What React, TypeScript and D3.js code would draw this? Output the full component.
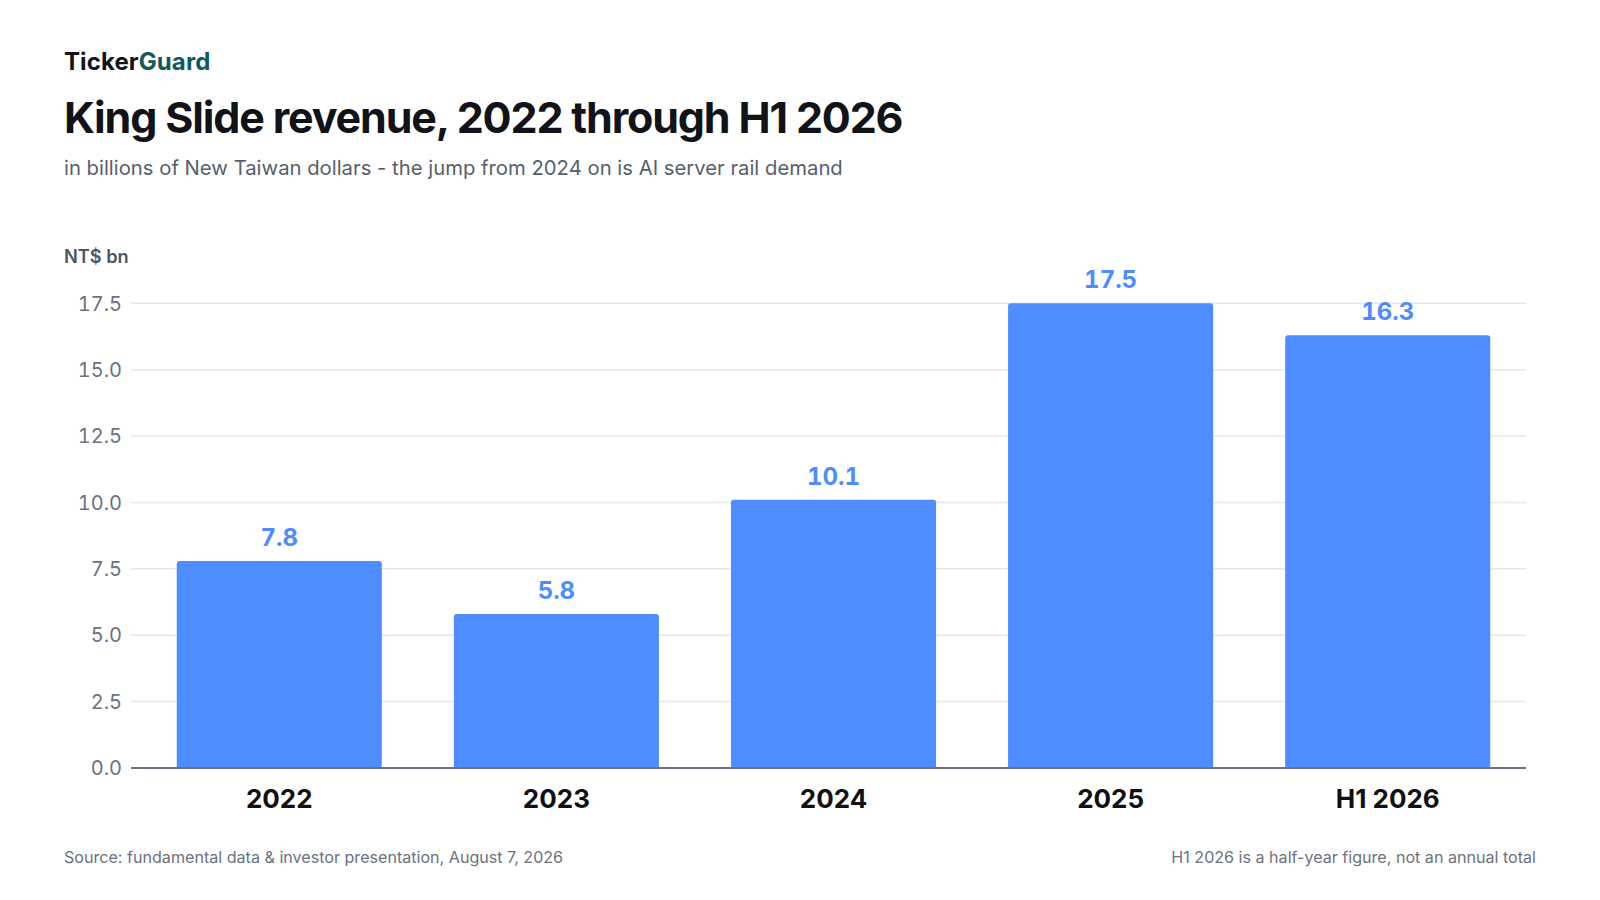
import React from "react";
import * as d3 from "d3";

const categories = ["2022", "2023", "2024", "2025", "H1 2026"];
const revenue = [7.8, 5.8, 10.1, 17.5, 16.3];
const yTicks = [0, 2.5, 5, 7.5, 10, 12.5, 15, 17.5];

const W = 1600;
const H = 900;
const FONT = "Inter, 'Noto Sans', sans-serif";
const GRID_X0 = 131;
const GRID_X1 = 1526;

const x = d3
  .scaleBand<string>()
  .domain(categories)
  .range([136, 1531])
  .paddingInner(0.26)
  .paddingOuter(0.147);

const y = d3.scaleLinear().domain([0, 17.5]).range([768, 303.3]);
const fmt = d3.format(".1f");
const tnum: React.CSSProperties = { fontVariantNumeric: "tabular-nums", fontFeatureSettings: "'tnum'" };

function topRoundedRect(x0: number, y0: number, w: number, h: number, r: number) {
  const p = d3.path();
  p.moveTo(x0, y0 + h);
  p.lineTo(x0, y0 + r);
  p.arcTo(x0, y0, x0 + r, y0, r);
  p.lineTo(x0 + w - r, y0);
  p.arcTo(x0 + w, y0, x0 + w, y0 + r, r);
  p.lineTo(x0 + w, y0 + h);
  p.closePath();
  return p.toString();
}

export default function App() {
  return (
    <svg
      width={W}
      height={H}
      viewBox={`0 0 ${W} ${H}`}
      style={{ position: "absolute", left: 0, top: 0, background: "#fff" }}
      fontFamily={FONT}
    >
      <rect width={W} height={H} fill="#fff" />
      <text x={64} y={70} fontSize={24} fontWeight={700} fill="#111318" letterSpacing={0.1}>
        Ticker<tspan fill="#0f5a5a">Guard</tspan>
      </text>
      <text x={64} y={133} fontSize={43} fontWeight={700} fill="#111318" letterSpacing={-1.15}>
        King Slide revenue, 2022 through H1 2026
      </text>
      <text x={64} y={175} fontSize={20.3} fill="#56606d">
        in billions of New Taiwan dollars - the jump from 2024 on is AI server rail demand
      </text>
      <text x={64} y={263} fontSize={18.2} fontWeight={600} fill="#4b5563">
        NT$ bn
      </text>

      {yTicks.map((t) => (
        <g key={t}>
          {t !== 0 && (
            <line x1={GRID_X0} x2={GRID_X1} y1={y(t)} y2={y(t)} stroke="#e5e7eb" strokeWidth={1.5} />
          )}
          <text
            x={122}
            y={y(t)}
            dy="0.36em"
            textAnchor="end"
            fontSize={20}
            fill="#6b7280"
            style={tnum}
          >
            {fmt(t)}
          </text>
        </g>
      ))}

      {categories.map((c, i) => {
        const bx = x(c) as number;
        const bw = x.bandwidth();
        const top = y(revenue[i]);
        return (
          <g key={c}>
            <path d={topRoundedRect(bx, top, bw, y(0) - top, 3)} fill="#4d8dff" />
            <text
              x={bx + bw / 2}
              y={top - 15}
              textAnchor="middle"
              fontSize={24}
              fontWeight={700}
              fill="#4d8dff"
              style={tnum}
            >
              {fmt(revenue[i])}
            </text>
            <text
              x={bx + bw / 2}
              y={808}
              textAnchor="middle"
              fontSize={26}
              fontWeight={700}
              fill="#111111"
            >
              {c}
            </text>
          </g>
        );
      })}

      <line x1={GRID_X0} x2={GRID_X1} y1={y(0)} y2={y(0)} stroke="#6b7280" strokeWidth={2} />

      <text x={64} y={863} fontSize={16.1} fill="#6b7280">
        Source: fundamental data &amp; investor presentation, August 7, 2026
      </text>
      <text x={1536} y={863} fontSize={16.1} fill="#6b7280" textAnchor="end">
        H1 2026 is a half-year figure, not an annual total
      </text>
    </svg>
  );
}
